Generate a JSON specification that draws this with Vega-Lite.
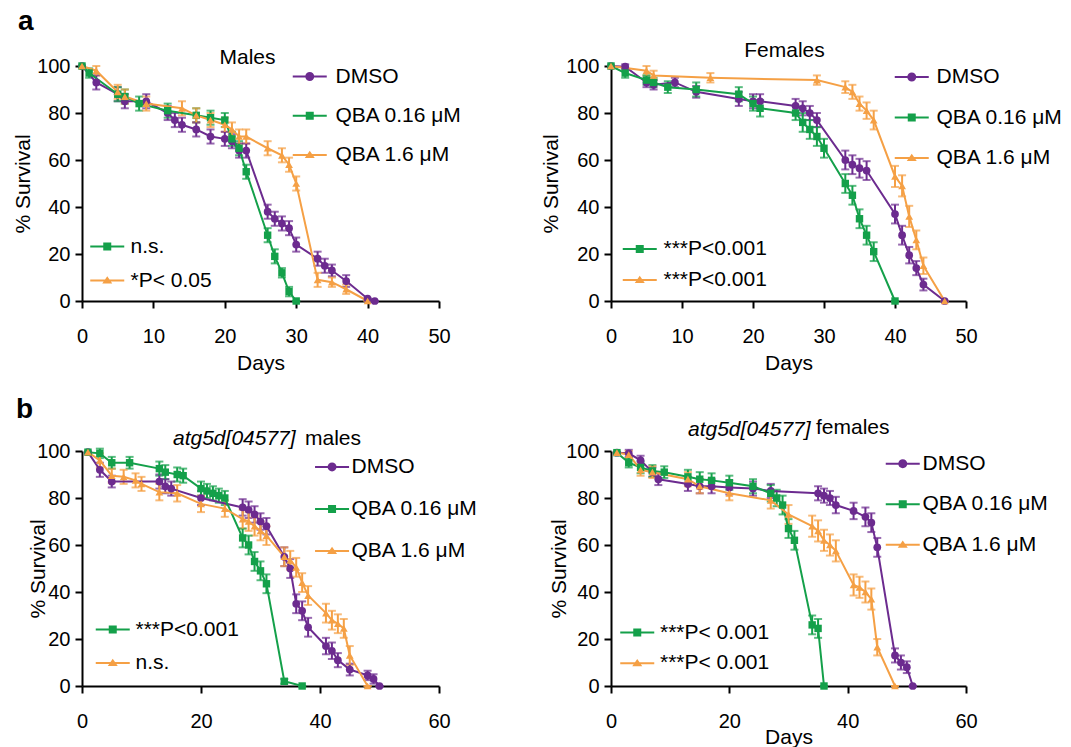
{
"$schema": "https://vega.github.io/schema/vega-lite/v6.json",
"padding": {"left": 12, "top": 8, "right": 5, "bottom": 2},
"spacing": 22,
"resolve": {"scale": {"color": "independent", "fill": "independent", "stroke": "independent", "strokeDash": "independent", "shape": "independent"}},
"datasets": {
"am": [
{"g":"DMSO","d":0,"s":100,"e":0},{"g":"DMSO","d":2,"s":93,"e":3},{"g":"DMSO","d":5,"s":88,"e":3},{"g":"DMSO","d":6,"s":85,"e":3},{"g":"DMSO","d":9,"s":85,"e":3},{"g":"DMSO","d":12,"s":80,"e":3},{"g":"DMSO","d":13,"s":77,"e":3},{"g":"DMSO","d":14,"s":75,"e":3},{"g":"DMSO","d":16,"s":73,"e":3},{"g":"DMSO","d":18,"s":70,"e":3},{"g":"DMSO","d":20,"s":69,"e":3},{"g":"DMSO","d":21,"s":68,"e":3},{"g":"DMSO","d":22,"s":64,"e":3},{"g":"DMSO","d":23,"s":64,"e":3},{"g":"DMSO","d":26,"s":38,"e":3},{"g":"DMSO","d":27,"s":35,"e":3},{"g":"DMSO","d":28,"s":33,"e":3},{"g":"DMSO","d":29,"s":31,"e":3},{"g":"DMSO","d":30,"s":24,"e":3},{"g":"DMSO","d":33,"s":18,"e":3},{"g":"DMSO","d":34,"s":15,"e":3},{"g":"DMSO","d":35,"s":13,"e":2.5},{"g":"DMSO","d":37,"s":8.5,"e":2.5},{"g":"DMSO","d":40,"s":1,"e":0},{"g":"DMSO","d":41,"s":0,"e":0},
{"g":"QBA 0.16 μM","d":0,"s":100,"e":0},{"g":"QBA 0.16 μM","d":1,"s":97,"e":2},{"g":"QBA 0.16 μM","d":5,"s":88,"e":3},{"g":"QBA 0.16 μM","d":6,"s":87,"e":3},{"g":"QBA 0.16 μM","d":8,"s":84,"e":3},{"g":"QBA 0.16 μM","d":12,"s":81,"e":3},{"g":"QBA 0.16 μM","d":16,"s":79,"e":3},{"g":"QBA 0.16 μM","d":18,"s":78,"e":3},{"g":"QBA 0.16 μM","d":20,"s":77,"e":3},{"g":"QBA 0.16 μM","d":21,"s":69,"e":3},{"g":"QBA 0.16 μM","d":22,"s":65,"e":3},{"g":"QBA 0.16 μM","d":23,"s":55,"e":3},{"g":"QBA 0.16 μM","d":26,"s":28,"e":3},{"g":"QBA 0.16 μM","d":27,"s":19,"e":3},{"g":"QBA 0.16 μM","d":28,"s":12,"e":2},{"g":"QBA 0.16 μM","d":29,"s":4,"e":2},{"g":"QBA 0.16 μM","d":30,"s":0,"e":0},
{"g":"QBA 1.6 μM","d":0,"s":100,"e":0},{"g":"QBA 1.6 μM","d":2,"s":98,"e":2},{"g":"QBA 1.6 μM","d":5,"s":89,"e":3},{"g":"QBA 1.6 μM","d":6,"s":87,"e":3},{"g":"QBA 1.6 μM","d":9,"s":84,"e":3},{"g":"QBA 1.6 μM","d":14,"s":82,"e":3},{"g":"QBA 1.6 μM","d":16,"s":79,"e":3},{"g":"QBA 1.6 μM","d":18,"s":77,"e":3},{"g":"QBA 1.6 μM","d":20,"s":75,"e":3},{"g":"QBA 1.6 μM","d":21,"s":73,"e":3},{"g":"QBA 1.6 μM","d":22,"s":70,"e":3},{"g":"QBA 1.6 μM","d":23,"s":70,"e":3},{"g":"QBA 1.6 μM","d":26,"s":65,"e":3},{"g":"QBA 1.6 μM","d":28,"s":62,"e":3},{"g":"QBA 1.6 μM","d":29,"s":58,"e":3},{"g":"QBA 1.6 μM","d":30,"s":50,"e":3},{"g":"QBA 1.6 μM","d":33,"s":9,"e":3},{"g":"QBA 1.6 μM","d":35,"s":8,"e":2},{"g":"QBA 1.6 μM","d":37,"s":5,"e":2},{"g":"QBA 1.6 μM","d":40,"s":0,"e":0}
],
"af": [
{"g":"DMSO","d":0,"s":100,"e":0},{"g":"DMSO","d":2,"s":99.7,"e":1},{"g":"DMSO","d":5,"s":93,"e":2},{"g":"DMSO","d":6,"s":92,"e":2},{"g":"DMSO","d":9,"s":93,"e":2},{"g":"DMSO","d":12,"s":89,"e":2.5},{"g":"DMSO","d":18,"s":86,"e":3},{"g":"DMSO","d":20,"s":85,"e":3},{"g":"DMSO","d":21,"s":85,"e":3},{"g":"DMSO","d":26,"s":83,"e":3},{"g":"DMSO","d":27,"s":82,"e":3},{"g":"DMSO","d":28,"s":80,"e":3},{"g":"DMSO","d":29,"s":77,"e":3},{"g":"DMSO","d":33,"s":60,"e":4},{"g":"DMSO","d":34,"s":58,"e":4},{"g":"DMSO","d":35,"s":56.5,"e":4},{"g":"DMSO","d":36,"s":55.5,"e":4},{"g":"DMSO","d":40,"s":37,"e":4},{"g":"DMSO","d":41,"s":28,"e":4},{"g":"DMSO","d":42,"s":19.5,"e":3.5},{"g":"DMSO","d":43,"s":14,"e":3},{"g":"DMSO","d":44,"s":7,"e":2.5},{"g":"DMSO","d":47,"s":0,"e":0},
{"g":"QBA 0.16 μM","d":0,"s":100,"e":0},{"g":"QBA 0.16 μM","d":2,"s":97,"e":2},{"g":"QBA 0.16 μM","d":5,"s":94,"e":2},{"g":"QBA 0.16 μM","d":6,"s":93,"e":2},{"g":"QBA 0.16 μM","d":8,"s":91,"e":2.5},{"g":"QBA 0.16 μM","d":12,"s":90,"e":3},{"g":"QBA 0.16 μM","d":18,"s":88,"e":3},{"g":"QBA 0.16 μM","d":20,"s":84,"e":3},{"g":"QBA 0.16 μM","d":21,"s":82,"e":3.5},{"g":"QBA 0.16 μM","d":26,"s":80,"e":3},{"g":"QBA 0.16 μM","d":27,"s":76,"e":4},{"g":"QBA 0.16 μM","d":28,"s":73,"e":4},{"g":"QBA 0.16 μM","d":29,"s":70,"e":4},{"g":"QBA 0.16 μM","d":30,"s":65,"e":4},{"g":"QBA 0.16 μM","d":33,"s":50,"e":4},{"g":"QBA 0.16 μM","d":34,"s":45,"e":4},{"g":"QBA 0.16 μM","d":35,"s":35,"e":4},{"g":"QBA 0.16 μM","d":36,"s":28,"e":4},{"g":"QBA 0.16 μM","d":37,"s":21,"e":4},{"g":"QBA 0.16 μM","d":40,"s":0,"e":0},
{"g":"QBA 1.6 μM","d":0,"s":100,"e":0},{"g":"QBA 1.6 μM","d":5,"s":98,"e":2},{"g":"QBA 1.6 μM","d":6,"s":96,"e":2},{"g":"QBA 1.6 μM","d":14,"s":95,"e":2},{"g":"QBA 1.6 μM","d":29,"s":94,"e":2},{"g":"QBA 1.6 μM","d":33,"s":91,"e":2.5},{"g":"QBA 1.6 μM","d":34,"s":89,"e":3},{"g":"QBA 1.6 μM","d":35,"s":84,"e":3},{"g":"QBA 1.6 μM","d":36,"s":81,"e":3.5},{"g":"QBA 1.6 μM","d":37,"s":77,"e":4},{"g":"QBA 1.6 μM","d":40,"s":53,"e":4.5},{"g":"QBA 1.6 μM","d":41,"s":49,"e":4.5},{"g":"QBA 1.6 μM","d":42,"s":36,"e":4.5},{"g":"QBA 1.6 μM","d":43,"s":26,"e":4},{"g":"QBA 1.6 μM","d":44,"s":15,"e":3.5},{"g":"QBA 1.6 μM","d":47,"s":0,"e":0}
],
"bm": [
{"g":"DMSO","d":1,"s":99.5,"e":0},{"g":"DMSO","d":3,"s":92,"e":3},{"g":"DMSO","d":5,"s":87,"e":2.5},{"g":"DMSO","d":13,"s":87,"e":3},{"g":"DMSO","d":14,"s":85,"e":3},{"g":"DMSO","d":15,"s":84,"e":3},{"g":"DMSO","d":20,"s":80,"e":3},{"g":"DMSO","d":27,"s":76,"e":3.5},{"g":"DMSO","d":28,"s":75,"e":3.5},{"g":"DMSO","d":29,"s":73,"e":3.5},{"g":"DMSO","d":30,"s":70,"e":3.5},{"g":"DMSO","d":31,"s":68,"e":3.5},{"g":"DMSO","d":34,"s":55,"e":4},{"g":"DMSO","d":35,"s":50,"e":4},{"g":"DMSO","d":36,"s":35,"e":4},{"g":"DMSO","d":37,"s":32,"e":4},{"g":"DMSO","d":38,"s":25,"e":4},{"g":"DMSO","d":41,"s":17,"e":3.5},{"g":"DMSO","d":42,"s":15,"e":3.5},{"g":"DMSO","d":43,"s":11,"e":3},{"g":"DMSO","d":45,"s":7,"e":2.5},{"g":"DMSO","d":48,"s":4.5,"e":2},{"g":"DMSO","d":49,"s":3,"e":2},{"g":"DMSO","d":50,"s":0,"e":0},
{"g":"QBA 0.16 μM","d":1,"s":99.5,"e":0},{"g":"QBA 0.16 μM","d":3,"s":99,"e":2},{"g":"QBA 0.16 μM","d":5,"s":95,"e":2.5},{"g":"QBA 0.16 μM","d":8,"s":95,"e":2.5},{"g":"QBA 0.16 μM","d":13,"s":92.5,"e":3},{"g":"QBA 0.16 μM","d":14,"s":91,"e":3},{"g":"QBA 0.16 μM","d":16,"s":90,"e":3},{"g":"QBA 0.16 μM","d":17,"s":89.5,"e":3},{"g":"QBA 0.16 μM","d":20,"s":84,"e":3},{"g":"QBA 0.16 μM","d":21,"s":83,"e":3},{"g":"QBA 0.16 μM","d":22,"s":82,"e":3},{"g":"QBA 0.16 μM","d":23,"s":81,"e":3},{"g":"QBA 0.16 μM","d":24,"s":80,"e":3},{"g":"QBA 0.16 μM","d":27,"s":63,"e":4},{"g":"QBA 0.16 μM","d":28,"s":60,"e":4},{"g":"QBA 0.16 μM","d":29,"s":53,"e":4},{"g":"QBA 0.16 μM","d":30,"s":49,"e":4},{"g":"QBA 0.16 μM","d":31,"s":43.5,"e":4},{"g":"QBA 0.16 μM","d":34,"s":2,"e":1},{"g":"QBA 0.16 μM","d":37,"s":0,"e":0},
{"g":"QBA 1.6 μM","d":1,"s":99.5,"e":0},{"g":"QBA 1.6 μM","d":3,"s":96,"e":3},{"g":"QBA 1.6 μM","d":5,"s":89.5,"e":3},{"g":"QBA 1.6 μM","d":7,"s":89,"e":3},{"g":"QBA 1.6 μM","d":9,"s":87.5,"e":3},{"g":"QBA 1.6 μM","d":10,"s":86,"e":3},{"g":"QBA 1.6 μM","d":13,"s":82.5,"e":3.5},{"g":"QBA 1.6 μM","d":16,"s":82,"e":3.5},{"g":"QBA 1.6 μM","d":20,"s":77.5,"e":3.5},{"g":"QBA 1.6 μM","d":24,"s":75.5,"e":3.5},{"g":"QBA 1.6 μM","d":27,"s":71,"e":4},{"g":"QBA 1.6 μM","d":28,"s":70,"e":4},{"g":"QBA 1.6 μM","d":29,"s":68,"e":4},{"g":"QBA 1.6 μM","d":30,"s":66,"e":4},{"g":"QBA 1.6 μM","d":31,"s":64,"e":4},{"g":"QBA 1.6 μM","d":34,"s":55,"e":4},{"g":"QBA 1.6 μM","d":35,"s":53.5,"e":4},{"g":"QBA 1.6 μM","d":36,"s":50.5,"e":4},{"g":"QBA 1.6 μM","d":37,"s":44,"e":4},{"g":"QBA 1.6 μM","d":38,"s":38.5,"e":4},{"g":"QBA 1.6 μM","d":41,"s":31,"e":4},{"g":"QBA 1.6 μM","d":42,"s":28,"e":4},{"g":"QBA 1.6 μM","d":43,"s":26.5,"e":4},{"g":"QBA 1.6 μM","d":44,"s":24.5,"e":4},{"g":"QBA 1.6 μM","d":45,"s":13,"e":4},{"g":"QBA 1.6 μM","d":48,"s":0,"e":0}
],
"bf": [
{"g":"DMSO","d":1,"s":99.3,"e":0},{"g":"DMSO","d":3,"s":99,"e":1.5},{"g":"DMSO","d":5,"s":96,"e":2},{"g":"DMSO","d":7,"s":91,"e":2},{"g":"DMSO","d":8,"s":88,"e":2.5},{"g":"DMSO","d":13,"s":86,"e":3},{"g":"DMSO","d":15,"s":85,"e":3},{"g":"DMSO","d":17,"s":85,"e":3},{"g":"DMSO","d":20,"s":84.5,"e":3},{"g":"DMSO","d":24,"s":84,"e":3},{"g":"DMSO","d":27,"s":83,"e":3},{"g":"DMSO","d":35,"s":82,"e":3},{"g":"DMSO","d":36,"s":81,"e":3},{"g":"DMSO","d":37,"s":80,"e":3},{"g":"DMSO","d":38,"s":77,"e":3.5},{"g":"DMSO","d":41,"s":74.5,"e":3.5},{"g":"DMSO","d":43,"s":72,"e":4},{"g":"DMSO","d":44,"s":69.5,"e":4},{"g":"DMSO","d":45,"s":59,"e":4},{"g":"DMSO","d":48,"s":13,"e":3},{"g":"DMSO","d":49,"s":10,"e":3},{"g":"DMSO","d":50,"s":8,"e":2.5},{"g":"DMSO","d":51,"s":0,"e":0},
{"g":"QBA 0.16 μM","d":1,"s":99.3,"e":0},{"g":"QBA 0.16 μM","d":3,"s":95,"e":2},{"g":"QBA 0.16 μM","d":5,"s":93,"e":2.5},{"g":"QBA 0.16 μM","d":7,"s":91.5,"e":2.5},{"g":"QBA 0.16 μM","d":9,"s":91,"e":2.5},{"g":"QBA 0.16 μM","d":13,"s":89,"e":3},{"g":"QBA 0.16 μM","d":15,"s":88,"e":3},{"g":"QBA 0.16 μM","d":17,"s":87.5,"e":3},{"g":"QBA 0.16 μM","d":20,"s":86.5,"e":3},{"g":"QBA 0.16 μM","d":24,"s":85,"e":3},{"g":"QBA 0.16 μM","d":27,"s":82,"e":3.5},{"g":"QBA 0.16 μM","d":28,"s":80,"e":3.5},{"g":"QBA 0.16 μM","d":29,"s":77,"e":4},{"g":"QBA 0.16 μM","d":30,"s":67,"e":4},{"g":"QBA 0.16 μM","d":31,"s":62,"e":4},{"g":"QBA 0.16 μM","d":34,"s":26,"e":4},{"g":"QBA 0.16 μM","d":35,"s":24.5,"e":4},{"g":"QBA 0.16 μM","d":36,"s":0,"e":0},
{"g":"QBA 1.6 μM","d":1,"s":99.3,"e":0},{"g":"QBA 1.6 μM","d":3,"s":98.5,"e":1.5},{"g":"QBA 1.6 μM","d":5,"s":92,"e":2.5},{"g":"QBA 1.6 μM","d":7,"s":91,"e":2.5},{"g":"QBA 1.6 μM","d":13,"s":88,"e":3},{"g":"QBA 1.6 μM","d":15,"s":85,"e":3},{"g":"QBA 1.6 μM","d":20,"s":82,"e":3},{"g":"QBA 1.6 μM","d":27,"s":79,"e":3.5},{"g":"QBA 1.6 μM","d":30,"s":73,"e":4},{"g":"QBA 1.6 μM","d":34,"s":68,"e":4.5},{"g":"QBA 1.6 μM","d":35,"s":66,"e":4.5},{"g":"QBA 1.6 μM","d":36,"s":62,"e":4.5},{"g":"QBA 1.6 μM","d":37,"s":60,"e":4.5},{"g":"QBA 1.6 μM","d":38,"s":57.5,"e":4.5},{"g":"QBA 1.6 μM","d":41,"s":43,"e":4.5},{"g":"QBA 1.6 μM","d":42,"s":42,"e":4.5},{"g":"QBA 1.6 μM","d":43,"s":40,"e":4.5},{"g":"QBA 1.6 μM","d":44,"s":37,"e":4.5},{"g":"QBA 1.6 μM","d":45,"s":16.5,"e":3.5},{"g":"QBA 1.6 μM","d":48,"s":0,"e":0}
]
},
"vconcat": [
{
"title": {"text": "a", "anchor": "start", "frame": "group", "dx": -64, "offset": 4, "fontSize": 28, "fontWeight": "bold"},
"bounds": "flush",
"spacing": 172,
"resolve": {"scale": {"color": "independent", "fill": "independent", "stroke": "independent", "strokeDash": "independent", "shape": "independent"}},
"hconcat": [
{
"width": 357, "height": 235,
"data": {"name": "am"},
"title": {"text": "Males", "anchor": "middle", "frame": "group", "dx": -13, "offset": -11.5},
"encoding": {
"x": {"field": "d", "type": "quantitative", "scale": {"domain": [0, 50], "nice": false, "zero": false}, "axis": {"values": [0, 10, 20, 30, 40, 50], "title": "Days", "titlePadding": 6}},
"y": {"field": "s", "type": "quantitative", "scale": {"domain": [0, 100], "nice": false}, "axis": {"values": [0, 20, 40, 60, 80, 100], "title": "% Survival", "titlePadding": 3}},
"color": {"field": "g", "type": "nominal", "scale": {"domain": ["QBA 0.16 μM", "QBA 1.6 μM", "DMSO"], "range": ["#14a04a", "#f5a045", "#6c2b8f"]}, "legend": null}
},
"layer": [
{"mark": {"type": "errorbar", "thickness": 2, "ticks": {"size": 8, "thickness": 2}}, "encoding": {"yError": {"field": "e"}}},
{"mark": {"type": "line", "strokeWidth": 2}},
{"transform": [{"filter": "datum.g == 'DMSO'"}], "mark": {"type": "point", "filled": true, "opacity": 1, "size": 60, "shape": "circle"}},
{"transform": [{"filter": "indexof(datum.g, '0.16') >= 0"}], "mark": {"type": "point", "filled": true, "opacity": 1, "size": 55, "shape": "square"}},
{"transform": [{"filter": "indexof(datum.g, '1.6') == 4"}], "mark": {"type": "point", "filled": true, "opacity": 1, "size": 60, "shape": "triangle-up"}},
{"transform": [{"filter": "false"}], "mark": {"type": "point", "filled": true, "opacity": 1},
 "encoding": {
  "fill": {"field": "g", "type": "nominal", "scale": {"domain": ["DMSO", "QBA 0.16 μM", "QBA 1.6 μM"], "range": ["#6c2b8f", "#14a04a", "#f5a045"]},
   "legend": {"orient": "none", "legendX": 217.25, "legendY": 0, "title": null, "labelOffset": 15.25, "rowPadding": 17.2}},
  "shape": {"field": "g", "type": "nominal", "scale": {"domain": ["DMSO", "QBA 0.16 μM", "QBA 1.6 μM"], "range": ["M-3.4,-0.2L3.4,-0.2L3.4,0.2L-3.4,0.2ZM0.9,0L0.83,0.34L0.64,0.64L0.34,0.83L0,0.9L-0.34,0.83L-0.64,0.64L-0.83,0.34L-0.9,0L-0.83,-0.34L-0.64,-0.64L-0.34,-0.83L0,-0.9L0.34,-0.83L0.64,-0.64L0.83,-0.34Z", "M-3.4,-0.2L3.4,-0.2L3.4,0.2L-3.4,0.2ZM-0.8,-0.8L0.8,-0.8L0.8,0.8L-0.8,0.8Z", "M-3.4,-0.2L3.4,-0.2L3.4,0.2L-3.4,0.2ZM0,-0.85L1,0.6L-1,0.6Z"]},
   "legend": {"orient": "none", "legendX": 217.25, "legendY": 0, "title": null, "labelOffset": 15.25, "rowPadding": 17.2}}
 }},
{"transform": [{"filter": "false"}], "mark": {"type": "point", "filled": true, "opacity": 1},
 "encoding": {"color": {"value": "#14a04a"}, "stroke": {"field": "g", "type": "nominal", "scale": {"domain": ["QBA 0.16 μM"], "range": ["#14a04a"]},
  "legend": {"orient": "none", "legendX": 14.75, "legendY": 170, "title": null, "labelOffset": 12.75, "symbolType": "M-3.4,-0.2L3.4,-0.2L3.4,0.2L-3.4,0.2ZM-0.8,-0.8L0.8,-0.8L0.8,0.8L-0.8,0.8Z", "labelExpr": "'n.s.'"}}}},
{"transform": [{"filter": "false"}], "mark": {"type": "point", "filled": true, "opacity": 1},
 "encoding": {"color": {"value": "#f5a045"}, "strokeDash": {"field": "g", "type": "nominal", "scale": {"domain": ["QBA 1.6 μM"], "range": [[1, 0]]},
  "legend": {"orient": "none", "legendX": 14.75, "legendY": 204, "title": null, "labelOffset": 12.75, "symbolType": "M-3.4,-0.2L3.4,-0.2L3.4,0.2L-3.4,0.2ZM0,-0.85L1,0.6L-1,0.6Z", "labelExpr": "'*P< 0.05'"}}}}
]
},
{
"width": 355, "height": 235,
"data": {"name": "af"},
"title": {"text": "Females", "anchor": "middle", "frame": "group", "dx": -4, "offset": -5},
"encoding": {
"x": {"field": "d", "type": "quantitative", "scale": {"domain": [0, 50], "nice": false, "zero": false}, "axis": {"values": [0, 10, 20, 30, 40, 50], "title": "Days", "titlePadding": 6}},
"y": {"field": "s", "type": "quantitative", "scale": {"domain": [0, 100], "nice": false}, "axis": {"values": [0, 20, 40, 60, 80, 100], "title": "% Survival", "titlePadding": 4}},
"color": {"field": "g", "type": "nominal", "scale": {"domain": ["QBA 0.16 μM", "QBA 1.6 μM", "DMSO"], "range": ["#14a04a", "#f5a045", "#6c2b8f"]}, "legend": null}
},
"layer": [
{"mark": {"type": "errorbar", "thickness": 2, "ticks": {"size": 8, "thickness": 2}}, "encoding": {"yError": {"field": "e"}}},
{"mark": {"type": "line", "strokeWidth": 2}},
{"transform": [{"filter": "datum.g == 'DMSO'"}], "mark": {"type": "point", "filled": true, "opacity": 1, "size": 60, "shape": "circle"}},
{"transform": [{"filter": "indexof(datum.g, '0.16') >= 0"}], "mark": {"type": "point", "filled": true, "opacity": 1, "size": 55, "shape": "square"}},
{"transform": [{"filter": "indexof(datum.g, '1.6') == 4"}], "mark": {"type": "point", "filled": true, "opacity": 1, "size": 60, "shape": "triangle-up"}},
{"transform": [{"filter": "false"}], "mark": {"type": "point", "filled": true, "opacity": 1},
 "encoding": {
  "fill": {"field": "g", "type": "nominal", "scale": {"domain": ["DMSO", "QBA 0.16 μM", "QBA 1.6 μM"], "range": ["#6c2b8f", "#14a04a", "#f5a045"]},
   "legend": {"orient": "none", "legendX": 290.25, "legendY": 0.5, "title": null, "labelOffset": 14.25, "rowPadding": 18.5}},
  "shape": {"field": "g", "type": "nominal", "scale": {"domain": ["DMSO", "QBA 0.16 μM", "QBA 1.6 μM"], "range": ["M-3.4,-0.2L3.4,-0.2L3.4,0.2L-3.4,0.2ZM0.9,0L0.83,0.34L0.64,0.64L0.34,0.83L0,0.9L-0.34,0.83L-0.64,0.64L-0.83,0.34L-0.9,0L-0.83,-0.34L-0.64,-0.64L-0.34,-0.83L0,-0.9L0.34,-0.83L0.64,-0.64L0.83,-0.34Z", "M-3.4,-0.2L3.4,-0.2L3.4,0.2L-3.4,0.2ZM-0.8,-0.8L0.8,-0.8L0.8,0.8L-0.8,0.8Z", "M-3.4,-0.2L3.4,-0.2L3.4,0.2L-3.4,0.2ZM0,-0.85L1,0.6L-1,0.6Z"]},
   "legend": {"orient": "none", "legendX": 290.25, "legendY": 0.5, "title": null, "labelOffset": 14.25, "rowPadding": 18.5}}
 }},
{"transform": [{"filter": "false"}], "mark": {"type": "point", "filled": true, "opacity": 1},
 "encoding": {"color": {"value": "#14a04a"}, "stroke": {"field": "g", "type": "nominal", "scale": {"domain": ["QBA 0.16 μM"], "range": ["#14a04a"]},
  "legend": {"orient": "none", "legendX": 18.25, "legendY": 172.5, "title": null, "labelOffset": 13.25, "symbolType": "M-3.4,-0.2L3.4,-0.2L3.4,0.2L-3.4,0.2ZM-0.8,-0.8L0.8,-0.8L0.8,0.8L-0.8,0.8Z", "labelExpr": "'***P<0.001'"}}}},
{"transform": [{"filter": "false"}], "mark": {"type": "point", "filled": true, "opacity": 1},
 "encoding": {"color": {"value": "#f5a045"}, "strokeDash": {"field": "g", "type": "nominal", "scale": {"domain": ["QBA 1.6 μM"], "range": [[1, 0]]},
  "legend": {"orient": "none", "legendX": 18.25, "legendY": 203.5, "title": null, "labelOffset": 13.25, "symbolType": "M-3.4,-0.2L3.4,-0.2L3.4,0.2L-3.4,0.2ZM0,-0.85L1,0.6L-1,0.6Z", "labelExpr": "'***P<0.001'"}}}}
]
}
]
},
{
"title": {"text": "b", "anchor": "start", "frame": "group", "dx": -66, "offset": -6.7, "fontSize": 28, "fontWeight": "bold"},
"bounds": "flush",
"spacing": 172,
"resolve": {"scale": {"color": "independent", "fill": "independent", "stroke": "independent", "strokeDash": "independent", "shape": "independent"}},
"hconcat": [
{
"width": 357, "height": 235,
"data": {"name": "bm"},
"title": {"text": "atg5d[04577]", "anchor": "start", "frame": "group", "dx": 91, "offset": -20.3, "fontStyle": "italic"},
"encoding": {
"x": {"field": "d", "type": "quantitative", "scale": {"domain": [0, 60], "nice": false, "zero": false}, "axis": {"values": [0, 20, 40, 60], "title": null}},
"y": {"field": "s", "type": "quantitative", "scale": {"domain": [0, 100], "nice": false}, "axis": {"values": [0, 20, 40, 60, 80, 100], "title": "% Survival", "titlePadding": -12}},
"color": {"field": "g", "type": "nominal", "scale": {"domain": ["QBA 0.16 μM", "QBA 1.6 μM", "DMSO"], "range": ["#14a04a", "#f5a045", "#6c2b8f"]}, "legend": null}
},
"layer": [
{"mark": {"type": "errorbar", "thickness": 2, "ticks": {"size": 8, "thickness": 2}}, "encoding": {"yError": {"field": "e"}}},
{"mark": {"type": "line", "strokeWidth": 2}},
{"transform": [{"filter": "datum.g == 'DMSO'"}], "mark": {"type": "point", "filled": true, "opacity": 1, "size": 60, "shape": "circle"}},
{"transform": [{"filter": "indexof(datum.g, '0.16') >= 0"}], "mark": {"type": "point", "filled": true, "opacity": 1, "size": 55, "shape": "square"}},
{"transform": [{"filter": "indexof(datum.g, '1.6') == 4"}], "mark": {"type": "point", "filled": true, "opacity": 1, "size": 60, "shape": "triangle-up"}},
{"transform": [{"filter": "false"}], "mark": {"type": "point", "filled": true, "opacity": 1},
 "encoding": {
  "fill": {"field": "g", "type": "nominal", "scale": {"domain": ["DMSO", "QBA 0.16 μM", "QBA 1.6 μM"], "range": ["#6c2b8f", "#14a04a", "#f5a045"]},
   "legend": {"orient": "none", "legendX": 223, "legendY": -22.6, "title": "males", "titleFontSize": 21, "titleFontWeight": "normal", "titleColor": "black", "titleAnchor": "start", "titlePadding": 7, "symbolOffset": 16.55, "labelOffset": 8.95, "rowPadding": 20}},
  "shape": {"field": "g", "type": "nominal", "scale": {"domain": ["DMSO", "QBA 0.16 μM", "QBA 1.6 μM"], "range": ["M-3.4,-0.2L3.4,-0.2L3.4,0.2L-3.4,0.2ZM0.9,0L0.83,0.34L0.64,0.64L0.34,0.83L0,0.9L-0.34,0.83L-0.64,0.64L-0.83,0.34L-0.9,0L-0.83,-0.34L-0.64,-0.64L-0.34,-0.83L0,-0.9L0.34,-0.83L0.64,-0.64L0.83,-0.34Z", "M-3.4,-0.2L3.4,-0.2L3.4,0.2L-3.4,0.2ZM-0.8,-0.8L0.8,-0.8L0.8,0.8L-0.8,0.8Z", "M-3.4,-0.2L3.4,-0.2L3.4,0.2L-3.4,0.2ZM0,-0.85L1,0.6L-1,0.6Z"]},
   "legend": {"orient": "none", "legendX": 223, "legendY": -22.6, "title": "males", "titleFontSize": 21, "titleFontWeight": "normal", "titleColor": "black", "titleAnchor": "start", "titlePadding": 7, "symbolOffset": 16.55, "labelOffset": 8.95, "rowPadding": 20}}
 }},
{"transform": [{"filter": "false"}], "mark": {"type": "point", "filled": true, "opacity": 1},
 "encoding": {"color": {"value": "#14a04a"}, "stroke": {"field": "g", "type": "nominal", "scale": {"domain": ["QBA 0.16 μM"], "range": ["#14a04a"]},
  "legend": {"orient": "none", "legendX": 20.25, "legendY": 168, "title": null, "labelOffset": 12.25, "symbolType": "M-3.4,-0.2L3.4,-0.2L3.4,0.2L-3.4,0.2ZM-0.8,-0.8L0.8,-0.8L0.8,0.8L-0.8,0.8Z", "labelExpr": "'***P<0.001'"}}}},
{"transform": [{"filter": "false"}], "mark": {"type": "point", "filled": true, "opacity": 1},
 "encoding": {"color": {"value": "#f5a045"}, "strokeDash": {"field": "g", "type": "nominal", "scale": {"domain": ["QBA 1.6 μM"], "range": [[1, 0]]},
  "legend": {"orient": "none", "legendX": 20.25, "legendY": 201.5, "title": null, "labelOffset": 12.25, "symbolType": "M-3.4,-0.2L3.4,-0.2L3.4,0.2L-3.4,0.2ZM0,-0.85L1,0.6L-1,0.6Z", "labelExpr": "'n.s.'"}}}}
]
},
{
"width": 355, "height": 235,
"data": {"name": "bf"},
"title": {"text": "atg5d[04577]", "anchor": "start", "frame": "group", "dx": 77, "offset": -22.7, "fontStyle": "italic"},
"encoding": {
"x": {"field": "d", "type": "quantitative", "scale": {"domain": [0, 60], "nice": false, "zero": false}, "axis": {"values": [0, 20, 40, 60], "title": "Days", "titlePadding": -5}},
"y": {"field": "s", "type": "quantitative", "scale": {"domain": [0, 100], "nice": false}, "axis": {"values": [0, 20, 40, 60, 80, 100], "title": "% Survival", "titlePadding": -4}},
"color": {"field": "g", "type": "nominal", "scale": {"domain": ["QBA 0.16 μM", "QBA 1.6 μM", "DMSO"], "range": ["#14a04a", "#f5a045", "#6c2b8f"]}, "legend": null}
},
"layer": [
{"mark": {"type": "errorbar", "thickness": 2, "ticks": {"size": 8, "thickness": 2}}, "encoding": {"yError": {"field": "e"}}},
{"mark": {"type": "line", "strokeWidth": 2}},
{"transform": [{"filter": "datum.g == 'DMSO'"}], "mark": {"type": "point", "filled": true, "opacity": 1, "size": 60, "shape": "circle"}},
{"transform": [{"filter": "indexof(datum.g, '0.16') >= 0"}], "mark": {"type": "point", "filled": true, "opacity": 1, "size": 55, "shape": "square"}},
{"transform": [{"filter": "indexof(datum.g, '1.6') == 4"}], "mark": {"type": "point", "filled": true, "opacity": 1, "size": 60, "shape": "triangle-up"}},
{"transform": [{"filter": "false"}], "mark": {"type": "point", "filled": true, "opacity": 1},
 "encoding": {
  "fill": {"field": "g", "type": "nominal", "scale": {"domain": ["DMSO", "QBA 0.16 μM", "QBA 1.6 μM"], "range": ["#6c2b8f", "#14a04a", "#f5a045"]},
   "legend": {"orient": "none", "legendX": 205, "legendY": -34.1, "title": "females", "titleFontSize": 21, "titleFontWeight": "normal", "titleColor": "black", "titleAnchor": "start", "titlePadding": 15.3, "symbolOffset": 76.25, "labelOffset": 9.25, "rowPadding": 18.5}},
  "shape": {"field": "g", "type": "nominal", "scale": {"domain": ["DMSO", "QBA 0.16 μM", "QBA 1.6 μM"], "range": ["M-3.4,-0.2L3.4,-0.2L3.4,0.2L-3.4,0.2ZM0.9,0L0.83,0.34L0.64,0.64L0.34,0.83L0,0.9L-0.34,0.83L-0.64,0.64L-0.83,0.34L-0.9,0L-0.83,-0.34L-0.64,-0.64L-0.34,-0.83L0,-0.9L0.34,-0.83L0.64,-0.64L0.83,-0.34Z", "M-3.4,-0.2L3.4,-0.2L3.4,0.2L-3.4,0.2ZM-0.8,-0.8L0.8,-0.8L0.8,0.8L-0.8,0.8Z", "M-3.4,-0.2L3.4,-0.2L3.4,0.2L-3.4,0.2ZM0,-0.85L1,0.6L-1,0.6Z"]},
   "legend": {"orient": "none", "legendX": 205, "legendY": -34.1, "title": "females", "titleFontSize": 21, "titleFontWeight": "normal", "titleColor": "black", "titleAnchor": "start", "titlePadding": 15.3, "symbolOffset": 76.25, "labelOffset": 9.25, "rowPadding": 18.5}}
 }},
{"transform": [{"filter": "false"}], "mark": {"type": "point", "filled": true, "opacity": 1},
 "encoding": {"color": {"value": "#14a04a"}, "stroke": {"field": "g", "type": "nominal", "scale": {"domain": ["QBA 0.16 μM"], "range": ["#14a04a"]},
  "legend": {"orient": "none", "legendX": 15.75, "legendY": 171, "title": null, "labelOffset": 12.25, "symbolType": "M-3.4,-0.2L3.4,-0.2L3.4,0.2L-3.4,0.2ZM-0.8,-0.8L0.8,-0.8L0.8,0.8L-0.8,0.8Z", "labelExpr": "'***P< 0.001'"}}}},
{"transform": [{"filter": "false"}], "mark": {"type": "point", "filled": true, "opacity": 1},
 "encoding": {"color": {"value": "#f5a045"}, "strokeDash": {"field": "g", "type": "nominal", "scale": {"domain": ["QBA 1.6 μM"], "range": [[1, 0]]},
  "legend": {"orient": "none", "legendX": 15.75, "legendY": 201.7, "title": null, "labelOffset": 12.25, "symbolType": "M-3.4,-0.2L3.4,-0.2L3.4,0.2L-3.4,0.2ZM0,-0.85L1,0.6L-1,0.6Z", "labelExpr": "'***P< 0.001'"}}}}
]
}
]
}
],
"config": {
"font": "Liberation Sans",
"view": {"stroke": null},
"axis": {"domainColor": "black", "domainWidth": 2, "tickColor": "black", "tickWidth": 2, "tickSize": 7, "labelColor": "black", "labelFontSize": 20, "labelPadding": 5, "titleFontSize": 21, "titleFontWeight": "normal", "titleColor": "black", "grid": false, "labelFlush": false, "labelOverlap": false},
"axisX": {"labelPadding": 18},
"title": {"fontSize": 21, "fontWeight": "normal", "color": "black"},
"legend": {"labelFontSize": 21, "labelColor": "black", "symbolSize": 100, "symbolStrokeWidth": 0, "symbolOffset": 0, "padding": 0, "labelLimit": 300, "symbolOpacity": 1}
}
}
